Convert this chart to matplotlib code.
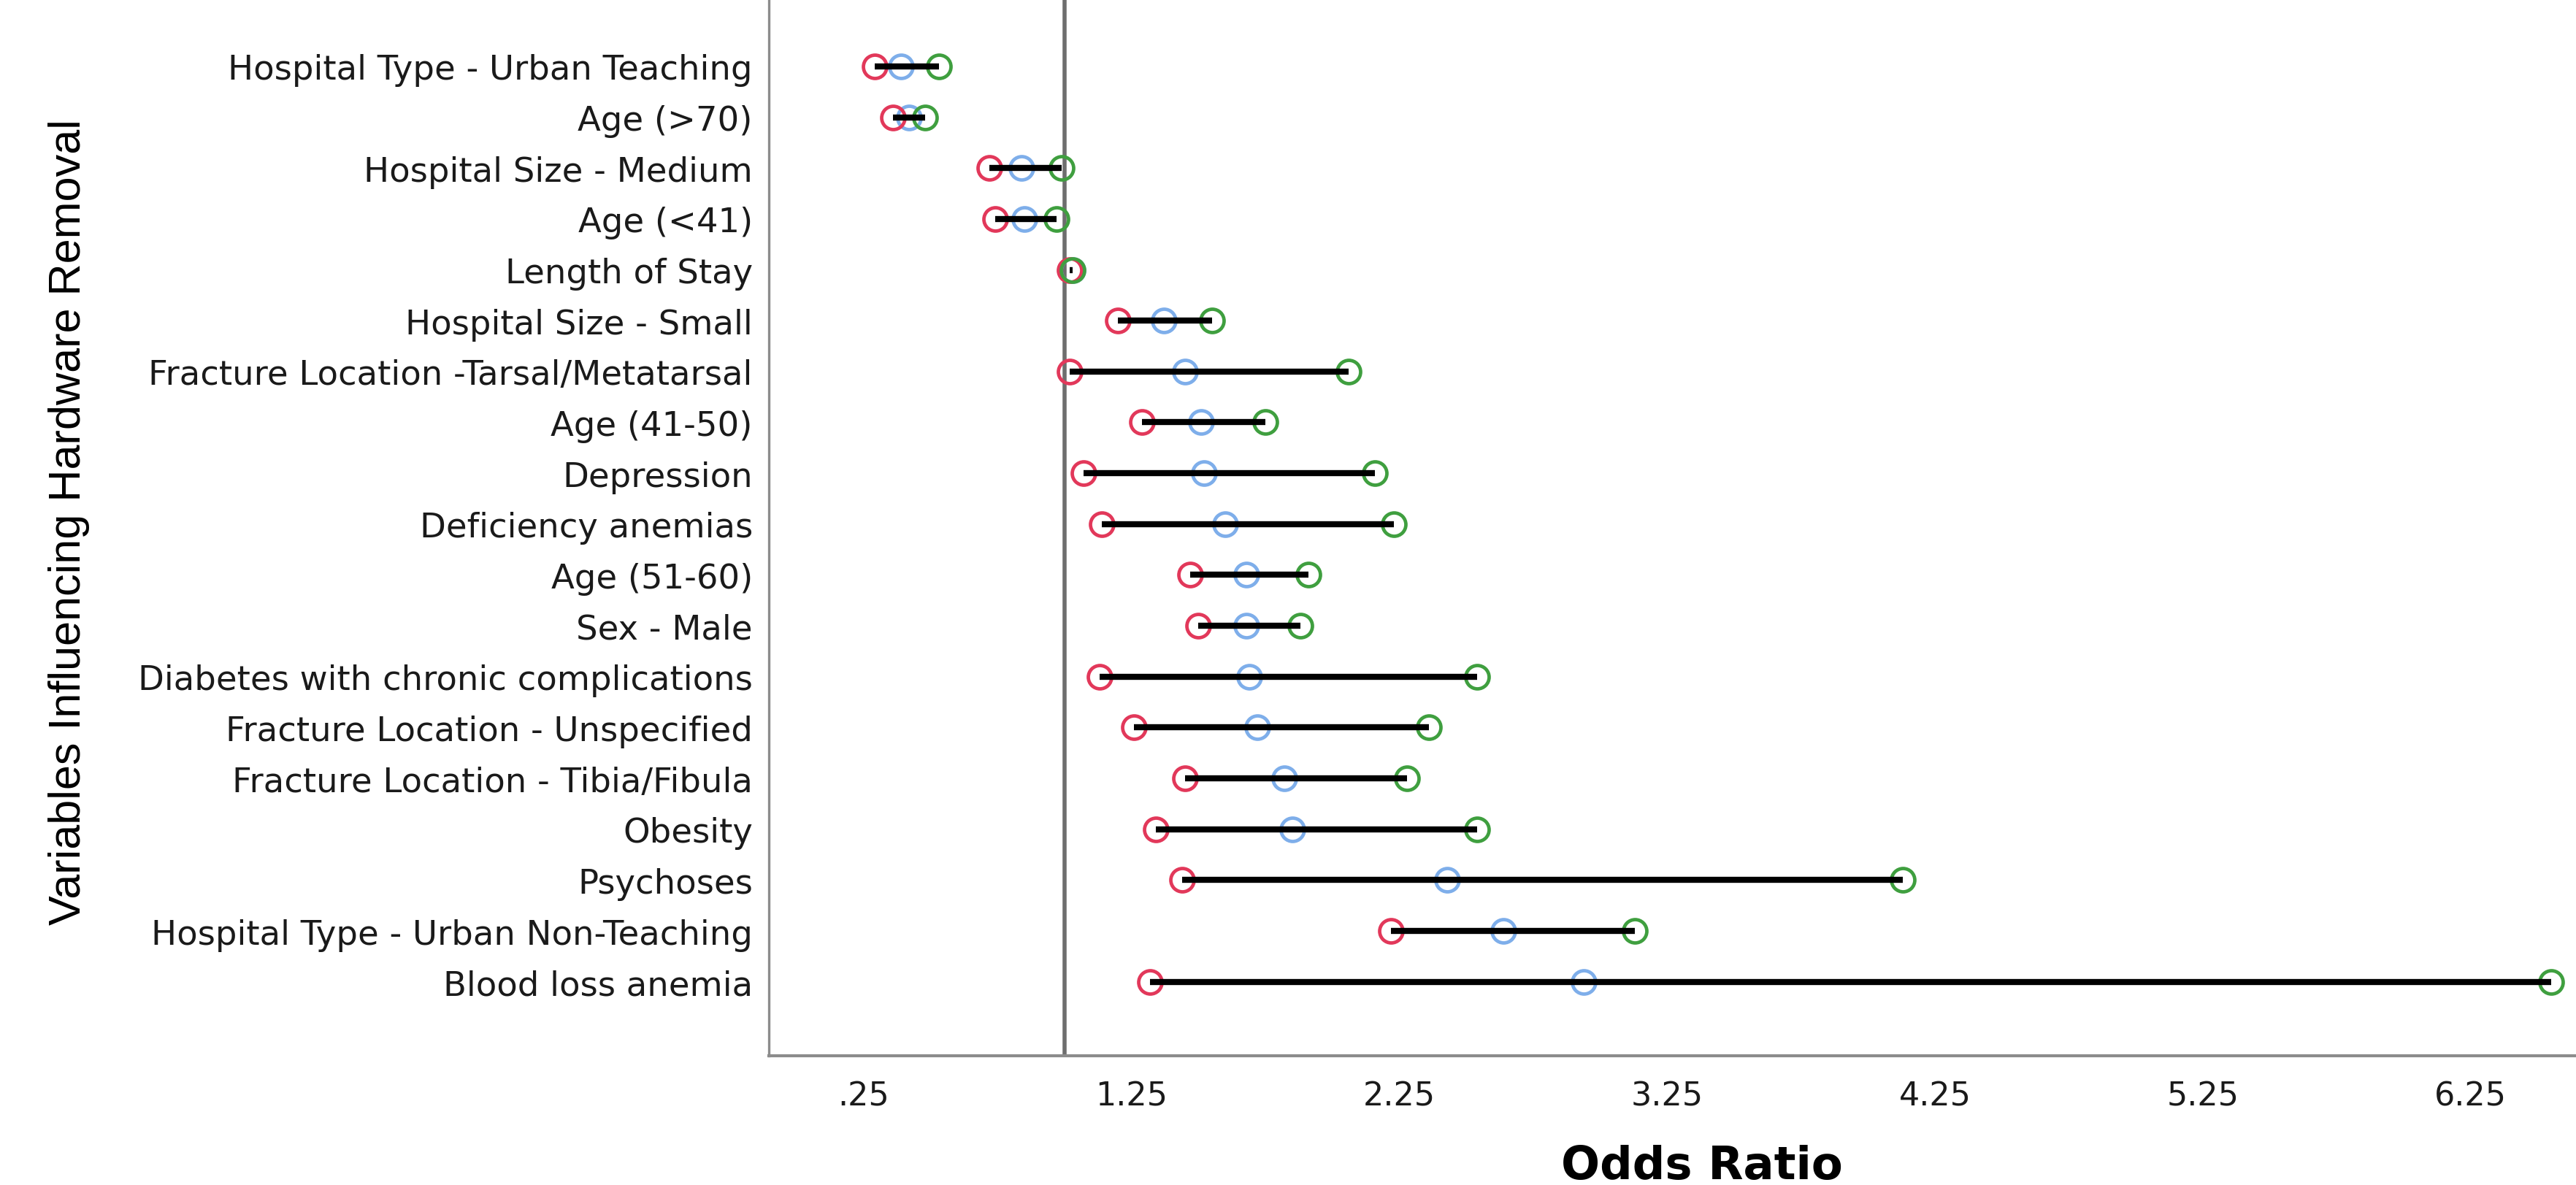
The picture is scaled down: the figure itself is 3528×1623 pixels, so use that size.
import numpy as np
import matplotlib.pyplot as plt
from matplotlib import font_manager

# variables, top to bottom
variables = [
    'Hospital Type - Urban Teaching',
    'Age (>70)',
    'Hospital Size - Medium',
    'Age (<41)',
    'Length of Stay',
    'Hospital Size - Small',
    'Fracture Location -Tarsal/Metatarsal',
    'Age (41-50)',
    'Depression',
    'Deficiency anemias',
    'Age (51-60)',
    'Sex - Male',
    'Diabetes with chronic complications',
    'Fracture Location - Unspecified',
    'Fracture Location - Tibia/Fibula',
    'Obesity',
    'Psychoses',
    'Hospital Type - Urban Non-Teaching',
    'Blood loss anemia',
]
ci_lower = [0.29, 0.36, 0.72, 0.74, 1.02, 1.20, 1.02, 1.29, 1.07, 1.14, 1.47, 1.50,
            1.13, 1.26, 1.45, 1.34, 1.44, 2.22, 1.32]
odds_ratio = [0.39, 0.42, 0.84, 0.85, 1.03, 1.37, 1.45, 1.51, 1.52, 1.60, 1.68, 1.68,
              1.69, 1.72, 1.82, 1.85, 2.43, 2.64, 2.94]
ci_upper = [0.53, 0.48, 0.99, 0.97, 1.03, 1.55, 2.06, 1.75, 2.16, 2.23, 1.91, 1.88,
            2.54, 2.36, 2.28, 2.54, 4.13, 3.13, 6.55]
xtick_vals = [0.25, 1.25, 2.25, 3.25, 4.25, 5.25, 6.25]
xtick_labels = ['.25', '1.25', '2.25', '3.25', '4.25', '5.25', '6.25']

W, H = 3528, 1624
fig = plt.figure(figsize=(W / 100, H / 100), dpi=100)
ax = fig.add_axes([1053 / W, 177 / H, 1 - 1053 / W, 1447 / H])

y = np.arange(len(variables))
mk = dict(ls='none', marker='o', ms=23, mew=3.4, mfc='none', zorder=3, clip_on=False)
ax.plot(odds_ratio, y, mec='#7eaeea', **mk)
ax.plot(ci_lower, y, mec='#e2385a', **mk)
ax.plot(ci_upper, y, mec='#3f9f3f', **mk)
ax.hlines(y, ci_lower, ci_upper, color='black', lw=6, zorder=4, clip_on=False)
ax.axvline(1.0, color='#6e6e6e', lw=4, zorder=1)

ax.set_xlim(-0.104, 6.644)
ax.set_ylim(len(variables) - 1 + 1.455, -1.32)
ax.set_yticks(y)
ax.set_yticklabels(variables)
ax.set_xticks(xtick_vals)
ax.set_xticklabels(xtick_labels)
ax.tick_params(axis='y', length=0, pad=16, labelsize=33.5, labelcolor='#1a1a1a')
ax.tick_params(axis='x', length=0, pad=24, labelsize=32, labelcolor='#1a1a1a')

for s in ['top', 'right']:
    ax.spines[s].set_visible(False)
ax.spines['left'].set_color('#8c8c8c')
ax.spines['left'].set_linewidth(2.4)
ax.spines['bottom'].set_color('#8c8c8c')
ax.spines['bottom'].set_linewidth(3)

ax.set_xlabel('Odds Ratio', fontsize=45, fontweight='bold')
ax.xaxis.label.set_va('center')
ax.xaxis.set_label_coords((2331 - 1053) / 2475, (1447 - 1598) / 1447)

names = {f.name for f in font_manager.fontManager.ttflist}
if 'Liberation Sans Narrow' in names:
    yfont, ysize = 'Liberation Sans Narrow', 54
else:
    yfont, ysize = 'Liberation Sans', 44
fig.text(95 / W, 1 - 715 / H, 'Variables Influencing Hardware Removal',
         rotation=90, ha='center', va='center', fontsize=ysize, family=yfont)

fig.savefig('out.png', dpi=100, facecolor='white')
